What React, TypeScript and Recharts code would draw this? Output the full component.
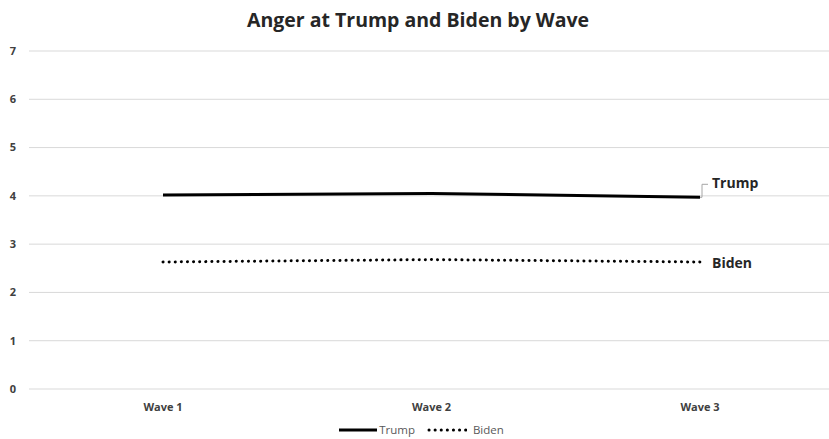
import { LineChart, Line, XAxis, YAxis, CartesianGrid, Legend } from "recharts"

const waves = ["Wave 1", "Wave 2", "Wave 3"]
const trump = [4.02, 4.05, 3.97]
const biden = [2.63, 2.68, 2.63]
const yTicks = [0, 1, 2, 3, 4, 5, 6, 7]

const data = waves.map((wave, i) => ({ wave, Trump: trump[i], Biden: biden[i] }))

const font = "'Open Sans', 'Noto Sans', sans-serif"

function EndLabel(props: any) {
  const { x, y, index, name, leader } = props
  if (index !== waves.length - 1) return null
  if (leader) {
    return (
      <g>
        <path d={`M${x},${y} L${x + 2},${y} L${x + 2},${y - 13} L${x + 8},${y - 13}`} stroke="#a6a6a6" fill="none" strokeWidth={1} />
        <text x={x + 12} y={y - 9} fontFamily={font} fontSize={14} fontWeight={700} fill="#262626">{name}</text>
      </g>
    )
  }
  return (
    <text x={x + 12} y={y + 6} fontFamily={font} fontSize={14} fontWeight={700} fill="#262626">{name}</text>
  )
}

function LegendContent() {
  return (
    <div style={{ display: "flex", justifyContent: "center", alignItems: "center", paddingLeft: 14, paddingTop: 2, fontFamily: font, fontSize: 11.5, lineHeight: "14px", color: "#595959", height: 18 }}>
      <svg width={38} height={6} style={{ marginRight: 2 }}>
        <line x1={0} y1={3} x2={38} y2={3} stroke="#000" strokeWidth={3} />
      </svg>
      <span style={{ marginRight: 12 }}>Trump</span>
      <svg width={40} height={6} style={{ marginRight: 6 }}>
        <line x1={2} y1={3} x2={40} y2={3} stroke="#000" strokeWidth={3} strokeDasharray="0.1 6" strokeLinecap="round" />
      </svg>
      <span>Biden</span>
    </div>
  )
}

export default function App() {
  return (
    <div style={{ position: "absolute", left: 0, top: 0, width: 829, height: 439, background: "#fff" }}>
      <div style={{ position: "absolute", top: 6, left: 0, width: 836, textAlign: "center", fontFamily: font, fontSize: 19.5, fontWeight: 700, color: "#262626" }}>
        Anger at Trump and Biden by Wave
      </div>
      <LineChart width={829} height={439} data={data} margin={{ top: 51, right: 0, left: 0, bottom: 0 }}>
        <CartesianGrid horizontal vertical={false} stroke="#d9d9d9" />
        <XAxis
          dataKey="wave"
          height={30}
          padding={{ left: 134, right: 129 }}
          axisLine={false}
          tickLine={false}
          tickMargin={8}
          tick={{ fill: "#404040", fontSize: 11, fontWeight: 700, fontFamily: font }}
        />
        <YAxis
          width={29}
          domain={[0, 7]}
          ticks={yTicks}
          axisLine={false}
          tickLine={false}
          tickSize={0}
          tickMargin={13}
          tick={{ fill: "#404040", fontSize: 11, fontWeight: 700, fontFamily: font }}
        />
        <Legend verticalAlign="bottom" height={20} content={<LegendContent />} />
        <Line
          type="linear"
          dataKey="Trump"
          stroke="#000"
          strokeWidth={3}
          dot={false}
          isAnimationActive={false}
          label={(p: any) => <EndLabel {...p} name="Trump" leader />}
        />
        <Line
          type="linear"
          dataKey="Biden"
          stroke="#000"
          strokeWidth={3}
          strokeDasharray="0.1 6"
          strokeLinecap="round"
          dot={false}
          isAnimationActive={false}
          label={(p: any) => <EndLabel {...p} name="Biden" />}
        />
      </LineChart>
    </div>
  )
}
